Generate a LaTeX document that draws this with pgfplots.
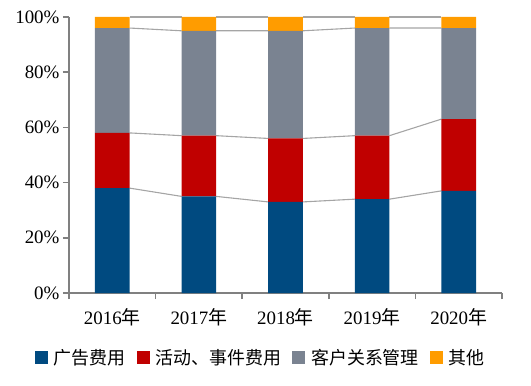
\documentclass[border=0pt]{standalone}
\usepackage{fontspec}
\setmainfont{Liberation Serif}
\newfontfamily\cjk{Noto Sans CJK SC}
\usepackage{pgfplots}
\pgfplotsset{compat=1.18}
\usepackage{pgfplotstable}

\definecolor{cblue}{RGB}{0,74,128}
\definecolor{cred}{RGB}{192,0,0}
\definecolor{cgrey}{RGB}{122,131,145}
\definecolor{corange}{RGB}{255,156,0}
\definecolor{axisgrey}{RGB}{128,128,128}
\definecolor{linegrey}{RGB}{165,165,165}

\pgfplotstableread{
x a b c d
0 38 20 38 4
1 35 22 38 5
2 33 23 39 5
3 34 23 39 4
4 37 26 33 4
}\data

\pgfplotstableread{
x l1 l2 l3 l4
0.2 38 58 96 100
0.8 35 57 95 100
nan nan nan nan nan
1.2 35 57 95 100
1.8 33 56 95 100
nan nan nan nan nan
2.2 33 56 95 100
2.8 34 57 96 100
nan nan nan nan nan
3.2 34 57 96 100
3.8 37 63 96 100
}\lines

\pgfplotsset{geom/.style={at={(0pt,0pt)}, anchor=south west, scale only axis,
  width=433bp, height=276bp, xmin=-0.5, xmax=4.5, ymin=0, ymax=100}}

\begin{document}
\begin{tikzpicture}
\begin{axis}[geom, hide axis, unbounded coords=jump]
\addplot[no marks, color=linegrey, line width=1.1bp] table[x=x,y=l1]{\lines};
\addplot[no marks, color=linegrey, line width=1.1bp] table[x=x,y=l2]{\lines};
\addplot[no marks, color=linegrey, line width=1.1bp] table[x=x,y=l3]{\lines};
\addplot[no marks, color=linegrey, line width=1.1bp] table[x=x,y=l4]{\lines};
\end{axis}
\begin{axis}[geom, name=main,
  ybar stacked, bar width=0.4,
  axis x line*=bottom, axis y line*=left,
  axis line style={draw=axisgrey, line width=1.5bp},
  xtick={-0.5,0.5,1.5,2.5,3.5,4.5},
  x tick label as interval,
  xticklabels={2016{\cjk 年},2017{\cjk 年},2018{\cjk 年},2019{\cjk 年},2020{\cjk 年}},
  xticklabel style={yshift=-6bp},
  ytick={0,20,40,60,80,100},
  yticklabels={0\%,20\%,40\%,60\%,80\%,100\%},
  tick align=outside, major tick length=6bp,
  tick style={draw=axisgrey, line width=1.5bp},
  ticklabel style={font=\fontsize{19}{22}\selectfont, text=black},
  legend columns=4,
  legend style={at={(0.443,-0.235)}, anchor=center, draw=none, fill=none,
    font=\cjk\fontsize{18}{20}\selectfont, inner sep=0pt,
    /tikz/every odd column/.append style={column sep=4bp},
    /tikz/every even column/.append style={column sep=9bp}},
  legend image code/.code={\fill[#1,draw=none] (0bp,-6.5bp) rectangle (13bp,6.5bp);},
]
\addplot[fill=cblue, draw=none] table[x=x,y=a]{\data};
\addplot[fill=cred, draw=none] table[x=x,y=b]{\data};
\addplot[fill=cgrey, draw=none] table[x=x,y=c]{\data};
\addplot[fill=corange, draw=none] table[x=x,y=d]{\data};
\legend{广告费用,活动、事件费用,客户关系管理,其他}
\end{axis}
\pgfresetboundingbox
\path (main.south west) ++(-69bp,-93bp) rectangle ++(531bp,386bp);
\end{tikzpicture}
\end{document}
